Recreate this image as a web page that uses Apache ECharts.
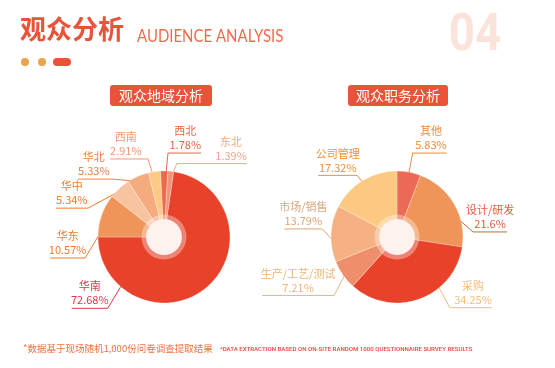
<!DOCTYPE html>
<html><head><meta charset="utf-8">
<script src="https://cdn.jsdelivr.net/npm/echarts@6/dist/echarts.min.js"></script>
<style>html,body{margin:0;padding:0;background:#fff}#c{width:555px;height:368px}</style>
</head><body><div id="c"></div>
<script>
// ---- data ----
const regionNames = ['华南', '华东', '华中', '华北', '西南', '西北', '东北'];
const regionValues = [72.68, 10.57, 5.34, 5.33, 2.91, 1.78, 1.39];
const jobNames = ['其他', '设计/研发', '采购', '生产/工艺/测试', '市场/销售', '公司管理'];
const jobValues = [5.83, 21.6, 34.25, 7.21, 13.79, 17.32];

// ---- styles ----
const regionColors = ['#e8432a', '#f0955a', '#f7c3a0', '#f4ab7e', '#fcca86', '#ec6a4d', '#f19479'];
const regionLabelColors = ['#e3334a', '#ee7a2e', '#f07a2a', '#f08040', '#f2986c', '#ec6444', '#f3a58a'];
const jobColors = ['#ec6a55', '#f0955a', '#e8432a', '#ef8e6a', '#f6b183', '#fcc882'];
const jobLabelColors = ['#f08a3c', '#e95a40', '#f6bc78', '#e9b57a', '#d9a77a', '#f0903a'];
const jobLineColors = ['#f08a3c', '#c8682c', '#f6bc78', '#e9b57a', '#d9a77a', '#f0903a'];
// label layout: [angle cw from 12 o'clock, start radius, elbow dx, elbow dy, segment length]
const regionLabelLayout = [
  [221.7, 62, -15, 25, 36],
  [273.6, 64, -15, 25, 35],
  [319.4, 63, -35, 19, 32],
  [332.6, 63, -23, -2, 34],
  [350, 63, -5, -16, 38],
  [1.8, 64, 2, -20, 33],
  [7.9, 64, 4, -10, 70]
];
const jobLabelLayout = [
  [10.5, 64, 4, -21, 34],
  [72.4, 63, 16, 14, 34],
  [138.5, 57, 15, 28, 42],
  [234.2, 64, -11, 21, 72],
  [264.5, 62, -13, -14, 38],
  [328.5, 57, -10, -13, 39]
];
const C1 = [164, 237], C2 = [397, 237], R = 66;

function makeLayout(c, cfg) {
  return function (p) {
    const k = cfg[p.dataIndex];
    if (!k) return {};
    const a = k[0] * Math.PI / 180;
    const sx = c[0] + k[1] * Math.sin(a), sy = c[1] - k[1] * Math.cos(a);
    const ex = sx + k[2], ey = sy + k[3];
    const dir = k[2] >= 0 ? 1 : -1;
    const fx = ex + dir * k[4];
    const w = p.labelRect.width;
    const tx = fx - dir * Math.min(w, k[4]) / 2;
    return {
      x: tx, y: ey - 1, align: 'center', verticalAlign: 'bottom',
      labelLinePoints: [[sx, sy], [ex, ey], [fx, ey]]
    };
  };
}

function mainPie(names, values, colors, lcolors, linecolors, center, startAngle, layout) {
  return {
    type: 'pie', center: center, radius: [0, R], startAngle: startAngle, clockwise: true,
    avoidLabelOverlap: false, animation: false,
    itemStyle: { borderColor: 'rgba(255,255,255,0.45)', borderWidth: 0.6 },
    label: { show: true, position: 'outside', formatter: '{b}\n{c}%', fontSize: 11, lineHeight: 14,
      fontFamily: 'Noto Sans CJK SC' },
    labelLine: { show: true, length: 10, length2: 10, lineStyle: { width: 1 } },
    labelLayout: makeLayout(center, layout),
    emphasis: { disabled: true },
    data: names.map((n, i) => ({
      name: n, value: values[i],
      itemStyle: { color: colors[i] },
      label: { color: lcolors[i] },
      labelLine: { lineStyle: { color: linecolors[i] } }
    }))
  };
}
function deco(center, r0, r1, color) {
  return { type: 'pie', center: center, radius: [r0, r1], silent: true, animation: false,
    label: { show: false }, labelLine: { show: false }, emphasis: { disabled: true },
    data: [{ value: 1, itemStyle: { color: color } }] };
}

const chart = echarts.init(document.getElementById('c'));
chart.setOption({
  backgroundColor: '#ffffff',
  series: [
    mainPie(regionNames, regionValues, regionColors, regionLabelColors, regionLabelColors, C1, 81.6, regionLabelLayout),
    mainPie(jobNames, jobValues, jobColors, jobLabelColors, jobLineColors, C2, 90, jobLabelLayout),
    deco(C1, 18, 22.5, 'rgba(255,255,255,0.35)'),
    deco(C1, 0, 18, '#fdf2ee'),
    deco(C2, 18, 22.5, 'rgba(255,255,255,0.35)'),
    deco(C2, 0, 18, '#fdf2ee')
  ],
  graphic: [
    { type: 'text', x: 20, y: 29, style: { text: '观众分析', fill: '#e8533a', font: 'bold 26px "Noto Sans CJK SC"', verticalAlign: 'middle' } },
    { type: 'text', x: 137, y: 37, scaleX: 0.88, style: { text: 'AUDIENCE ANALYSIS', fill: '#f06a4a', font: '17px Lato', verticalAlign: 'middle' } },
    { type: 'text', x: 475, y: 37, scaleX: 0.88, style: { text: '04', fill: '#fbe3dc', font: 'bold 52px Roboto', align: 'center', verticalAlign: 'middle' } },
    { type: 'circle', shape: { cx: 25, cy: 62, r: 4 }, style: { fill: '#eca24b' } },
    { type: 'circle', shape: { cx: 42, cy: 62, r: 4 }, style: { fill: '#eca24b' } },
    { type: 'rect', shape: { x: 53, y: 58, width: 18, height: 8, r: 4 }, style: { fill: '#e8533a' } },
    { type: 'rect', shape: { x: 110, y: 85, width: 102, height: 21, r: 3 }, style: { fill: '#e8533a' } },
    { type: 'text', x: 161, y: 95.5, style: { text: '观众地域分析', fill: '#fff', font: '14px "Noto Sans CJK SC"', align: 'center', verticalAlign: 'middle' } },
    { type: 'rect', shape: { x: 348, y: 85, width: 100, height: 21, r: 3 }, style: { fill: '#e8533a' } },
    { type: 'text', x: 398, y: 95.5, style: { text: '观众职务分析', fill: '#fff', font: '14px "Noto Sans CJK SC"', align: 'center', verticalAlign: 'middle' } },
    { type: 'text', x: 23, y: 348, style: { text: '*数据基于现场随机1,000份问卷调查提取结果', fill: '#f0703a', font: '9.5px "Noto Sans CJK SC"', verticalAlign: 'middle' } },
    { type: 'text', x: 220, y: 349, style: { text: '*DATA EXTRACTION BASED ON ON-SITE RANDOM 1000 QUESTIONNAIRE SURVEY RESULTS', fill: '#e8433a', font: '500 6.1px Roboto', verticalAlign: 'middle' } }
  ]
});
</script>
</body></html>
